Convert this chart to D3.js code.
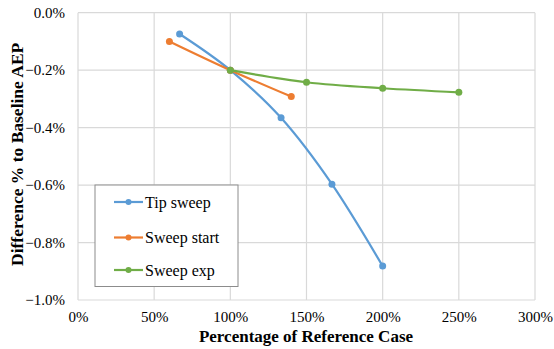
<!DOCTYPE html>
<html>
<head>
<meta charset="utf-8">
<script src="https://cdn.jsdelivr.net/npm/d3@7"></script>
<style>
  html, body { margin: 0; padding: 0; background: #fff; }
  svg { display: block; }
</style>
</head>
<body>
<svg id="chart" width="554" height="349"></svg>
<script>
// Sweep study: change in AEP relative to baseline
const tipSweepX = [66.7, 100, 133.3, 166.7, 200];
const tipSweepY = [-0.074, -0.2, -0.366, -0.597, -0.882];
const sweepStartX = [60, 100, 140];
const sweepStartY = [-0.10, -0.2, -0.292];
const sweepExpX = [100, 150, 200, 250];
const sweepExpY = [-0.2, -0.242, -0.263, -0.277];

const seriesNames = ["Tip sweep", "Sweep start", "Sweep exp"];
const seriesColors = ["#5b9bd5", "#ed7d31", "#70ad47"];

const xTicks = [0, 50, 100, 150, 200, 250, 300];
const yTicks = [0, -0.2, -0.4, -0.6, -0.8, -1.0];

const series = [
  { name: seriesNames[0], color: seriesColors[0], pts: tipSweepX.map((x, i) => [x, tipSweepY[i]]) },
  { name: seriesNames[1], color: seriesColors[1], pts: sweepStartX.map((x, i) => [x, sweepStartY[i]]) },
  { name: seriesNames[2], color: seriesColors[2], pts: sweepExpX.map((x, i) => [x, sweepExpY[i]]) }
];

const FONT = "Liberation Serif";
const svg = d3.select("#chart").attr("font-family", FONT);
const plotL = 78, plotR = 535, plotT = 12.7, plotB = 300;

const x = d3.scaleLinear().domain([0, 300]).range([plotL, plotR]);
const y = d3.scaleLinear().domain([-1.0, 0]).range([plotB, plotT]);

// gridlines
const grid = svg.append("g");
grid.selectAll("line.v").data(xTicks).join("line")
  .attr("x1", d => x(d)).attr("x2", d => x(d))
  .attr("y1", plotT).attr("y2", plotB)
  .attr("stroke", "#d9d9d9").attr("stroke-width", 1.2);
grid.selectAll("line.h").data(yTicks).join("line")
  .attr("x1", plotL).attr("x2", plotR)
  .attr("y1", d => y(d)).attr("y2", d => y(d))
  .attr("stroke", "#d9d9d9").attr("stroke-width", 1.2);

// axes (labels only)
const xAxis = svg.append("g").attr("transform", `translate(0,${plotB})`)
  .call(d3.axisBottom(x).tickValues(xTicks).tickSize(0).tickPadding(11).tickFormat(d => d + "%"));
const yAxis = svg.append("g").attr("transform", `translate(${plotL},0)`)
  .call(d3.axisLeft(y).tickValues(yTicks).tickSize(0).tickPadding(13).tickFormat(d => d3.format(".1f")(d) + "%"));
[xAxis, yAxis].forEach(a => {
  a.attr("font-family", FONT).attr("font-size", 15);
  a.select(".domain").remove();
  a.selectAll("text").attr("fill", "#000");
});

// lines and markers
const line = d3.line().x(d => x(d[0])).y(d => y(d[1])).curve(d3.curveCardinal.tension(0));
series.forEach(s => {
  svg.append("path").datum(s.pts)
    .attr("d", line).attr("fill", "none")
    .attr("stroke", s.color).attr("stroke-width", 2.2);
  svg.append("g").selectAll("circle").data(s.pts).join("circle")
    .attr("cx", d => x(d[0])).attr("cy", d => y(d[1])).attr("r", 3.5)
    .attr("fill", s.color);
});

// axis titles
svg.append("text")
  .attr("x", 306).attr("y", 342)
  .attr("text-anchor", "middle")
  .attr("font-size", 17).attr("font-weight", "bold")
  .text("Percentage of Reference Case");
svg.append("text")
  .attr("transform", `translate(23,${(plotT + plotB) / 2 - 2}) rotate(-90)`)
  .attr("text-anchor", "middle")
  .attr("font-size", 17.5).attr("font-weight", "bold")
  .text("Difference % to Baseline AEP");

// legend
const lg = svg.append("g");
lg.append("rect").attr("x", 95).attr("y", 185).attr("width", 143).attr("height", 101.5)
  .attr("fill", "#fff").attr("stroke", "#8c8c8c").attr("stroke-width", 1);
const rowY = [202, 237.5, 270];
series.forEach((s, i) => {
  const g = lg.append("g").attr("transform", `translate(0,${rowY[i]})`);
  g.append("line").attr("x1", 114).attr("x2", 143).attr("y1", 0).attr("y2", 0)
    .attr("stroke", s.color).attr("stroke-width", 2.2);
  g.append("circle").attr("cx", 128.5).attr("cy", 0).attr("r", 3).attr("fill", s.color);
  g.append("text").attr("x", 145).attr("y", 5.5)
    .attr("font-size", 16).text(s.name);
});
</script>
</body>
</html>
